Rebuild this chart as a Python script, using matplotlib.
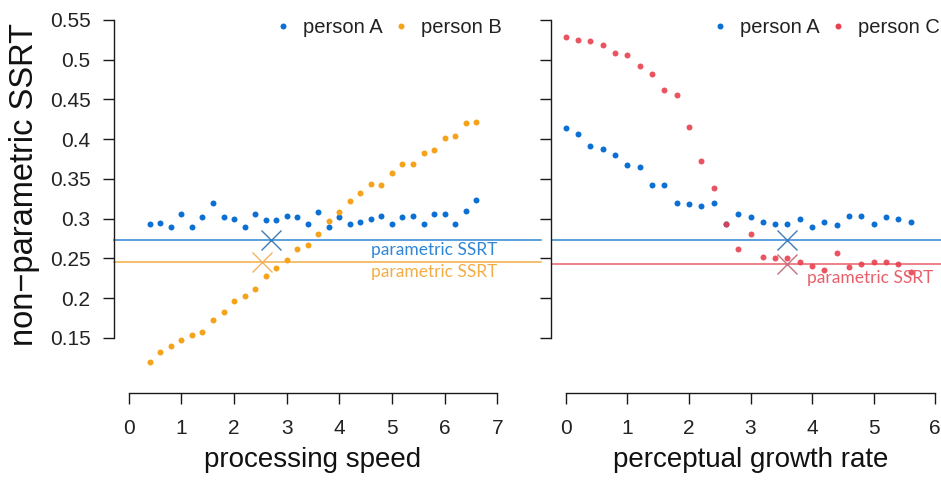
import matplotlib
matplotlib.use("Agg")
import matplotlib.pyplot as plt
from matplotlib.lines import Line2D

plt.rcParams["font.family"] = ["Liberation Sans", "DejaVu Sans"]

# ---- data -------------------------------------------------------------
speed = [0.4, 0.6, 0.8, 1.0, 1.2, 1.4, 1.6, 1.8, 2.0, 2.2, 2.4, 2.6, 2.8, 3.0,
         3.2, 3.4, 3.6, 3.8, 4.0, 4.2, 4.4, 4.6, 4.8, 5.0, 5.2, 5.4, 5.6, 5.8,
         6.0, 6.2, 6.4, 6.6]
speed_A = [0.293, 0.295, 0.289, 0.306, 0.289, 0.302, 0.320, 0.302, 0.300, 0.290,
           0.306, 0.298, 0.298, 0.304, 0.302, 0.293, 0.308, 0.289, 0.302, 0.293,
           0.296, 0.300, 0.304, 0.293, 0.302, 0.304, 0.293, 0.306, 0.306, 0.294,
           0.310, 0.324]
speed_B = [0.120, 0.132, 0.140, 0.147, 0.154, 0.158, 0.173, 0.183, 0.197, 0.203,
           0.212, 0.228, 0.238, 0.248, 0.262, 0.267, 0.281, 0.297, 0.308, 0.322,
           0.332, 0.344, 0.342, 0.357, 0.369, 0.369, 0.383, 0.386, 0.402, 0.404,
           0.420, 0.422]

growth = [0.0, 0.2, 0.4, 0.6, 0.8, 1.0, 1.2, 1.4, 1.6, 1.8, 2.0, 2.2, 2.4, 2.6,
          2.8, 3.0, 3.2, 3.4, 3.6, 3.8, 4.0, 4.2, 4.4, 4.6, 4.8, 5.0, 5.2, 5.4, 5.6]
growth_A = [0.414, 0.406, 0.392, 0.388, 0.380, 0.367, 0.365, 0.343, 0.343, 0.320,
            0.318, 0.316, 0.320, 0.293, 0.306, 0.302, 0.296, 0.294, 0.294, 0.300,
            0.290, 0.296, 0.292, 0.304, 0.304, 0.294, 0.302, 0.300, 0.296]
growth_C = [0.529, 0.525, 0.523, 0.519, 0.508, 0.506, 0.492, 0.482, 0.462, 0.456,
            0.416, 0.373, 0.339, 0.293, 0.262, 0.281, 0.252, 0.250, 0.250, 0.245,
            0.241, 0.236, 0.257, 0.239, 0.243, 0.246, 0.246, 0.243, 0.233]

# parametric SSRT estimates and where they sit on each axis
param_A = 0.273
param_B = 0.246
param_C = 0.243
cross_speed_A = 2.71
cross_speed_B = 2.54
cross_growth_A = 3.60
cross_growth_C = 3.59

yticks = [0.15, 0.2, 0.25, 0.3, 0.35, 0.4, 0.45, 0.5, 0.55]
ytick_labels = ["0.15", "0.2", "0.25", "0.3", "0.35", "0.4", "0.45", "0.5", "0.55"]
speed_ticks = [0, 1, 2, 3, 4, 5, 6, 7]
growth_ticks = [0, 1, 2, 3, 4, 5, 6]

# ---- styling ----------------------------------------------------------
BLUE, ORANGE, RED = "#0b6fd3", "#f6a31c", "#e8414f"
BLUE_L, ORANGE_L, RED_L = "#2f86d6", "#f3ad45", "#e85f6a"
BLUE_X, ORANGE_X, RED_X = "#3d7bbd", "#f2b365", "#c4707c"
AX = "#1a1a1a"
W, H = 941, 480

fig = plt.figure(figsize=(W / 100, H / 100), dpi=100)
ax1 = fig.add_axes([114 / W, 87 / H, 398 / W, 387 / H])
ax2 = fig.add_axes([551 / W, 87 / H, 399 / W, 387 / H])

ylim = (0.0808, 0.5676)


def style(ax, xticks, xlim, ylabels):
    ax.set_xlim(*xlim)
    ax.set_ylim(*ylim)
    for s in ("top", "right"):
        ax.spines[s].set_visible(False)
    for s in ("left", "bottom"):
        ax.spines[s].set_linewidth(1.0)
        ax.spines[s].set_color(AX)
    ax.spines["left"].set_bounds(yticks[0], yticks[-1])
    ax.spines["bottom"].set_bounds(xticks[0], xticks[-1])
    ax.set_xticks(xticks)
    ax.set_xticklabels([str(t) for t in xticks])
    ax.set_yticks(yticks)
    ax.set_yticklabels(ytick_labels if ylabels else [])
    ax.tick_params(axis="both", length=7.9, width=1.0, color=AX,
                   labelsize=15, labelcolor="#222222")
    ax.tick_params(axis="x", pad=11)
    ax.tick_params(axis="y", pad=9)
    ax.patch.set_alpha(0)


style(ax1, speed_ticks, (-0.28, 7.28), True)
style(ax2, growth_ticks, (-0.24, 6.24), False)

dot = dict(marker="o", ms=4.3, mew=0, ls="none", clip_on=False)

# left panel: processing speed
ax1.axhline(param_A, xmin=0, xmax=1.073, color=BLUE_L, lw=1.1, clip_on=False)
ax1.axhline(param_B, xmin=0, xmax=1.073, color=ORANGE_L, lw=1.1, clip_on=False)
ax1.plot(speed, speed_A, color=BLUE, **dot)
ax1.plot(speed, speed_B, color=ORANGE, **dot)
ax1.plot([cross_speed_A], [param_A], marker="x", ms=14, mew=1.0, color=BLUE_X)
ax1.plot([cross_speed_B], [param_B], marker="x", ms=14, mew=1.0, color=ORANGE_X)
ax1.text(7.0, param_A - 0.0125, "parametric SSRT", color=BLUE_L, fontsize=12.5,
         family="Lato", ha="right", va="center")
ax1.text(7.0, param_B - 0.0125, "parametric SSRT", color=ORANGE_L, fontsize=12.5,
         family="Lato", ha="right", va="center")

# right panel: perceptual growth rate
ax2.axhline(param_A, color=BLUE_L, lw=1.1)
ax2.axhline(param_C, color=RED_L, lw=1.1)
ax2.plot(growth, growth_A, color=BLUE, **dot)
ax2.plot(growth, growth_C, color=RED, alpha=0.9, **dot)
ax2.plot([cross_growth_A], [param_A], marker="x", ms=14, mew=1.0, color=BLUE_X)
ax2.plot([cross_growth_C], [param_C], marker="x", ms=14, mew=1.0, color=RED_X)
ax2.text(3.92, param_C - 0.017, "parametric SSRT", color=RED_L, fontsize=12.5,
         family="Lato", ha="left", va="center")


def legend(ax, names, colors):
    handles = [Line2D([], [], marker="o", ms=4.3, mew=0, ls="none", color=c)
               for c in colors]
    ax.legend(handles, names, ncol=2, loc="upper right",
              bbox_to_anchor=(0.975, 0.968), frameon=False, fontsize=14.5,
              handlelength=0.4, handletextpad=0.8, columnspacing=0.7,
              borderpad=0, borderaxespad=0, labelcolor="#222222")


legend(ax1, ["person A", "person B"], [BLUE, ORANGE])
legend(ax2, ["person A", "person C"], [BLUE, RED])

ax1.set_xlabel("processing speed", fontsize=20, labelpad=6, color="#111111")
ax2.set_xlabel("perceptual growth rate", fontsize=20, labelpad=6, color="#111111")
fig.text(25 / W, 1 - 184 / H, "non\u2212parametric SSRT", rotation=90,
         fontsize=23.5, ha="center", va="center", color="#111111")

fig.savefig("out.png", dpi=100)
